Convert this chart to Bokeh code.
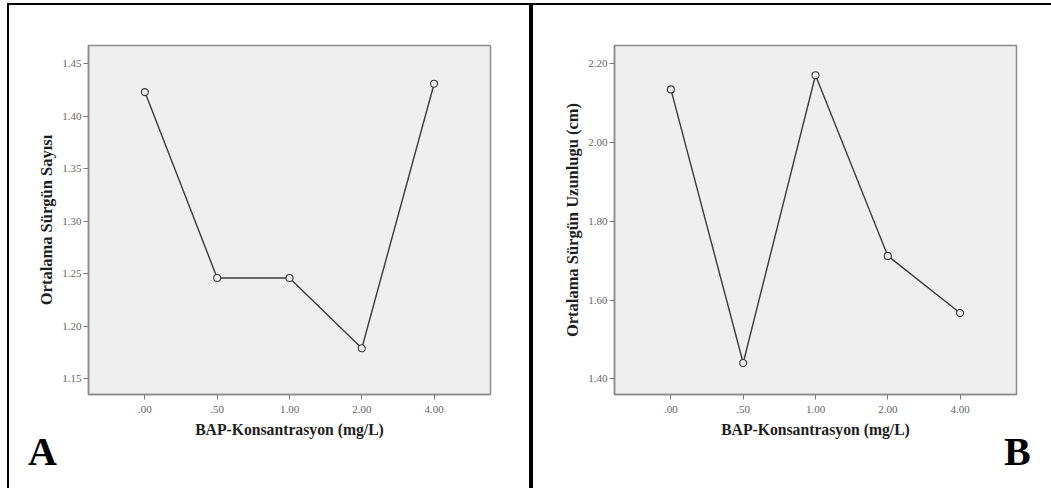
from bokeh.plotting import figure
from bokeh.layouts import row, column
from bokeh.models import Spacer, Div, FixedTicker, NumeralTickFormatter
from bokeh.embed import file_html
from bokeh.resources import INLINE

# BAP concentration groups (mg/L), shown as evenly spaced categories
concentrations = [".00", ".50", "1.00", "2.00", "4.00"]

# Mean shoot number per concentration
shoot_count = [1.423, 1.246, 1.246, 1.179, 1.431]
count_ticks = [1.15, 1.20, 1.25, 1.30, 1.35, 1.40, 1.45]

# Mean shoot length (cm) per concentration
shoot_length = [2.135, 1.440, 2.171, 1.712, 1.567]
length_ticks = [1.40, 1.60, 1.80, 2.00, 2.20]

x_title = "BAP-Konsantrasyon (mg/L)"
y_title_a = "Ortalama Sürgün Sayısı"
y_title_b = "Ortalama Sürgün Uzunlugu (cm)"

SERIF = "Liberation Serif"
FRAME_BG = "#efefef"
FRAME_LINE = "#8c8c8c"
LINE_COLOR = "#3c3c3c"


def panel(values, yticks, yrange, ytitle, width, left, right):
    idx = list(range(len(concentrations)))
    p = figure(
        width=width, height=437,
        x_range=(-0.78, len(idx) - 1 + 0.78), y_range=yrange,
        output_backend="svg", toolbar_location=None,
        min_border_left=left, min_border_right=right,
        min_border_top=40, min_border_bottom=48,
        background_fill_color=FRAME_BG, border_fill_color="white",
        outline_line_color=FRAME_LINE, outline_line_width=1.5,
    )
    p.grid.visible = False

    for ax in (p.xaxis[0], p.yaxis[0]):
        ax.axis_line_color = FRAME_LINE
        ax.axis_line_width = 1.5
        ax.major_tick_line_color = "#7a7a7a"
        ax.major_tick_in = 0
        ax.major_tick_out = 5
        ax.minor_tick_line_color = None
        ax.major_label_text_font = SERIF
        ax.major_label_text_font_size = "11px"
        ax.major_label_text_color = "#666666"
        ax.major_label_standoff = 2
        ax.axis_label_text_font = SERIF
        ax.axis_label_text_font_style = "bold"
        ax.axis_label_text_color = "#1e1e1e"

    p.xaxis.ticker = FixedTicker(ticks=idx)
    p.xaxis.major_label_overrides = {i: s for i, s in enumerate(concentrations)}
    p.xaxis.major_label_standoff = 6
    p.xaxis.axis_label = x_title
    p.xaxis.axis_label_text_font_size = "15.7px"
    p.xaxis.axis_label_standoff = 5

    p.yaxis.ticker = FixedTicker(ticks=yticks)
    p.yaxis.formatter = NumeralTickFormatter(format="0.00")
    p.yaxis.axis_label = ytitle
    p.yaxis.axis_label_text_font_size = "16.5px"
    p.yaxis.axis_label_standoff = 3

    p.line(idx, values, line_color=LINE_COLOR, line_width=1.4)
    p.scatter(idx, values, size=7, marker="circle", fill_color=FRAME_BG,
              line_color=LINE_COLOR, line_width=1.1)
    return p


def letter(text, width, pad_left):
    # Panel letter set in the strip under each chart
    html = (f'<div style="font-family: \'{SERIF}\', serif; font-weight: bold; '
            f'font-size: 40px; line-height: 20px; color: #000; margin: 0; '
            f'padding-left: {pad_left}px; white-space: nowrap;">{text}</div>')
    return Div(text=html, width=width, height=46, margin=0,
               styles={"overflow": "visible"})


def bar(w, h, color):
    return Spacer(width=w, height=h, margin=0,
                  styles={"background-color": color})


pA = panel(shoot_count, count_ticks, (1.135, 1.4674), y_title_a,
           width=520, left=79, right=39)
pB = panel(shoot_length, length_ticks, (1.360, 2.2465), y_title_b,
           width=518, left=81, right=35)

page = column(
    bar(1051, 3, "white"),
    row(bar(7, 2, "white"), bar(1044, 2, "black"), spacing=0),
    row(bar(7, 483, "white"), bar(2, 483, "black"),
        column(pA, letter("A", 520, 19), spacing=0),
        bar(4, 483, "black"),
        column(pB, letter("B", 518, 471), spacing=0),
        spacing=0),
    spacing=0,
)

open("out.html", "w").write(file_html(page, INLINE))
